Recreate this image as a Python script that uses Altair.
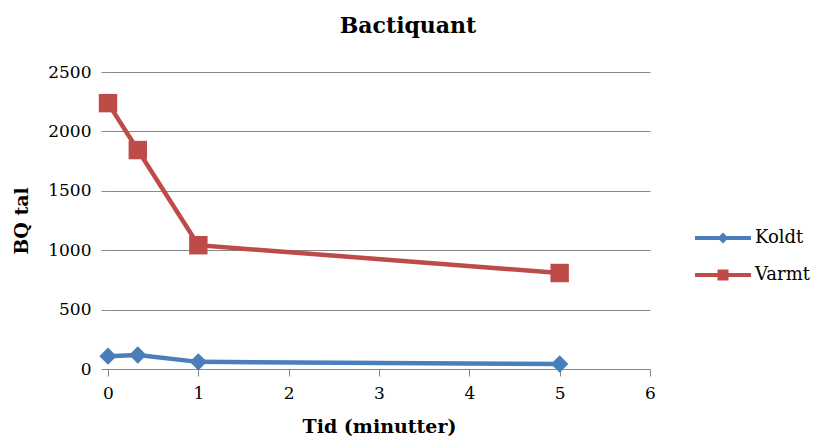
import altair as alt
import pandas as pd

time_min = [0, 0.33, 1, 5]
koldt = [108, 118, 60, 42]
varmt = [2238, 1843, 1042, 808]
series_names = ["Koldt", "Varmt"]
colors = ["#4A7EBB", "#BE4B48"]

rows = []
for t, v in zip(time_min, koldt):
    rows.append({"tid": t, "bq": v, "serie": "Koldt"})
for t, v in zip(time_min, varmt):
    rows.append({"tid": t, "bq": v, "serie": "Varmt"})
df = pd.DataFrame(rows)

FONT = "DejaVu Serif"
line_path = "M-2.8,-0.2L2.8,-0.2L2.8,0.2L-2.8,0.2Z"
koldt_sym = line_path + "M0,-0.55L0.55,0L0,0.55L-0.55,0Z"
varmt_sym = line_path + "M-0.55,-0.55L0.55,-0.55L0.55,0.55L-0.55,0.55Z"

color_scale = alt.Scale(domain=series_names, range=colors)

x_enc = alt.X("tid:Q", title="Tid (minutter)",
              scale=alt.Scale(domain=[0, 6], nice=False, zero=True),
              axis=alt.Axis(values=[0, 1, 2, 3, 4, 5, 6], grid=False, format="d",
                            labelFlush=False, tickSize=7, labelPadding=9, titlePadding=16))
y_enc = alt.Y("bq:Q", title="BQ tal",
              scale=alt.Scale(domain=[0, 2500], nice=False),
              axis=alt.Axis(values=[0, 500, 1000, 1500, 2000, 2500], grid=True, format="d",
                            tickSize=7, labelPadding=10, titlePadding=16, domain=False))

legend = alt.Legend(
    title=None, orient="none", legendX=605, legendY=156,
    symbolSize=400, symbolStrokeWidth=0, symbolOpacity=1, labelOffset=22, rowPadding=18,
    labelFontSize=18, labelFont=FONT, labelColor="#000000", padding=0,
)

base = alt.Chart(df)

legend_layer = base.mark_point(filled=True, opacity=0, size=1).encode(
    x=x_enc, y=y_enc,
    color=alt.Color("serie:N", scale=color_scale, legend=legend),
    shape=alt.Shape("serie:N", scale=alt.Scale(domain=series_names, range=[koldt_sym, varmt_sym]),
                    legend=legend),
)

lines = base.mark_line(strokeWidth=4.5).encode(
    x=x_enc, y=y_enc,
    color=alt.Color("serie:N", scale=color_scale),
)

pts_k = base.transform_filter(alt.datum.serie == "Koldt").mark_point(
    filled=True, opacity=1, size=300, shape="diamond").encode(
    x=x_enc, y=y_enc,
    color=alt.Color("serie:N", scale=color_scale),
)
pts_v = base.transform_filter(alt.datum.serie == "Varmt").mark_point(
    filled=True, opacity=1, size=340, shape="square").encode(
    x=x_enc, y=y_enc,
    color=alt.Color("serie:N", scale=color_scale),
)

chart = alt.layer(legend_layer, lines, pts_k, pts_v).properties(
    width=542, height=297,
    background="#ffffff",
    title=alt.TitleParams("Bactiquant", font=FONT, fontSize=22, fontWeight="bold",
                          color="#000000", anchor="middle", dx=29, offset=25),
    autosize=alt.AutoSizeParams(type="none"),
    padding={"left": 108, "top": 72, "right": 167, "bottom": 69},
).configure_view(stroke=None).configure_axis(
    labelFont=FONT, labelFontSize=17, labelColor="#000000",
    titleFont=FONT, titleFontSize=19, titleFontWeight="bold", titleColor="#000000",
    gridColor="#878787", gridWidth=1, domainColor="#878787", tickColor="#878787",
    domainWidth=1, tickWidth=1,
).configure_legend(
    labelFont=FONT, labelFontSize=18, labelColor="#000000",
)

chart.save("out.html", embed_options={"renderer": "svg", "actions": False})
